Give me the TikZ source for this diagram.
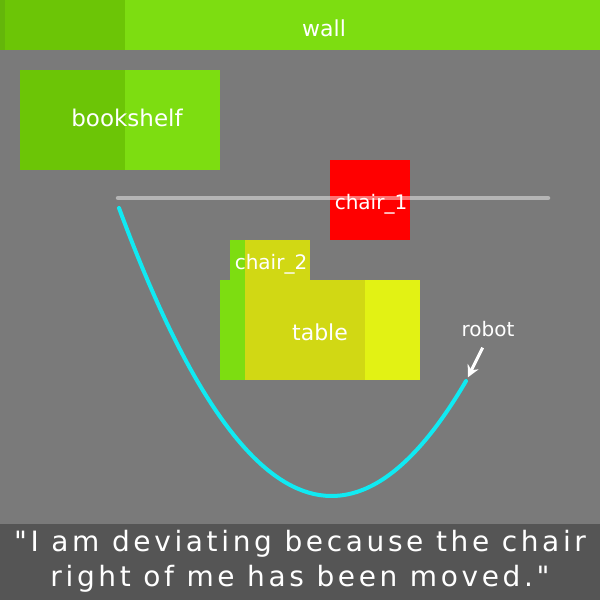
\documentclass[tikz,border=0pt]{standalone}
\usepackage{fontspec}
\setmainfont{DejaVu Sans}
\newfontfamily\quotefont[LetterSpace=13]{DejaVu Sans}
\usepackage{xcolor}
\usetikzlibrary{arrows.meta, positioning}

\definecolor{floorgray}{RGB}{122,122,122}
\definecolor{quotegray}{RGB}{85,85,85}
\definecolor{lightgreen}{RGB}{125,221,17}
\definecolor{darkgreen}{RGB}{108,197,6}
\definecolor{edgegreen}{RGB}{100,182,10}
\definecolor{olive}{RGB}{209,216,20}
\definecolor{lightyellow}{RGB}{226,242,20}
\definecolor{pathcyan}{RGB}{16,234,242}

\begin{document}
\begin{tikzpicture}[x=1pt, y=-1pt,
    block/.style={rectangle, inner sep=0pt, outer sep=0pt, anchor=north west},
    tag/.style={text=white, inner sep=0pt, font=\fontsize{20}{24}\selectfont},
    route/.style={pathcyan, line width=4pt, line cap=round}]

            \useasboundingbox (0,0) rectangle (600,600);

            % room and caption band
            \fill[floorgray] (0,0) rectangle (600,524);
            \fill[quotegray] (0,524) rectangle (600,600);

            % wall
            \node[block, fill=lightgreen, minimum width=600pt, minimum height=50pt] (wall) at (0,0) {};
            \node[block, fill=darkgreen, minimum width=125pt, minimum height=50pt] (wallshade) at (0,0) {};
            \node[block, fill=edgegreen, minimum width=5pt, minimum height=50pt] (walledge) at (0,0) {};
            \node[tag, font=\fontsize{22}{26}\selectfont] (walltext) at (324,28) {wall};

            % bookshelf
            \node[block, fill=lightgreen, minimum width=200pt, minimum height=100pt] (shelf) at (20,70) {};
            \node[block, fill=darkgreen, minimum width=105pt, minimum height=100pt] (shelfshade) at (20,70) {};
            \node[tag, font=\fontsize{23}{27}\selectfont] (shelftext) at (127,118) {bookshelf};

            % chair_1 and the line through it
            \node[block, fill=red, minimum width=80pt, minimum height=80pt] (chair1) at (330,160) {};
            \draw[white, opacity=0.45, line width=4.5pt, line cap=round] (118,198) -- (548,198);
            \node[tag] (chair1text) at (371,204) {chair\_1};

            % chair_2
            \node[block, fill=olive, minimum width=80pt, minimum height=40pt] (chair2) at (230,240) {};
            \node[block, fill=lightgreen, minimum width=15pt, minimum height=40pt] (chair2shade) at (230,240) {};

            % table
            \node[block, fill=lightyellow, minimum width=200pt, minimum height=100pt] (table) at (220,280) {};
            \node[block, fill=olive, minimum width=145pt, minimum height=100pt] (tablemid) at (220,280) {};
            \node[block, fill=lightgreen, minimum width=25pt, minimum height=100pt] (tableshade) at (220,280) {};
            \node[tag] (chair2text) at (271,264) {chair\_2};
            \node[tag, font=\fontsize{22}{26}\selectfont] (tabletext) at (320,332) {table};

            % path of the robot
            \coordinate (start) at (119,208);
            \coordinate (robot) at (466,381);
            \draw[route] (start) .. controls (234.7,521.3) and (350.3,579) .. (robot);

            \node[tag] (robottext) at (488,329) {robot};
            \draw[white, line width=3pt, -{Stealth[length=12pt, width=12pt]}, shorten <=12pt, shorten >=4pt]
            (robottext.south) -- (robot);

            % what the robot says
            \node[text=white, align=center, font=\quotefont\fontsize{28}{35}\selectfont] (quote) at (300,561)
            {"I am deviating because the chair\\right of me has been moved."};

        \end{tikzpicture}
\end{document}
